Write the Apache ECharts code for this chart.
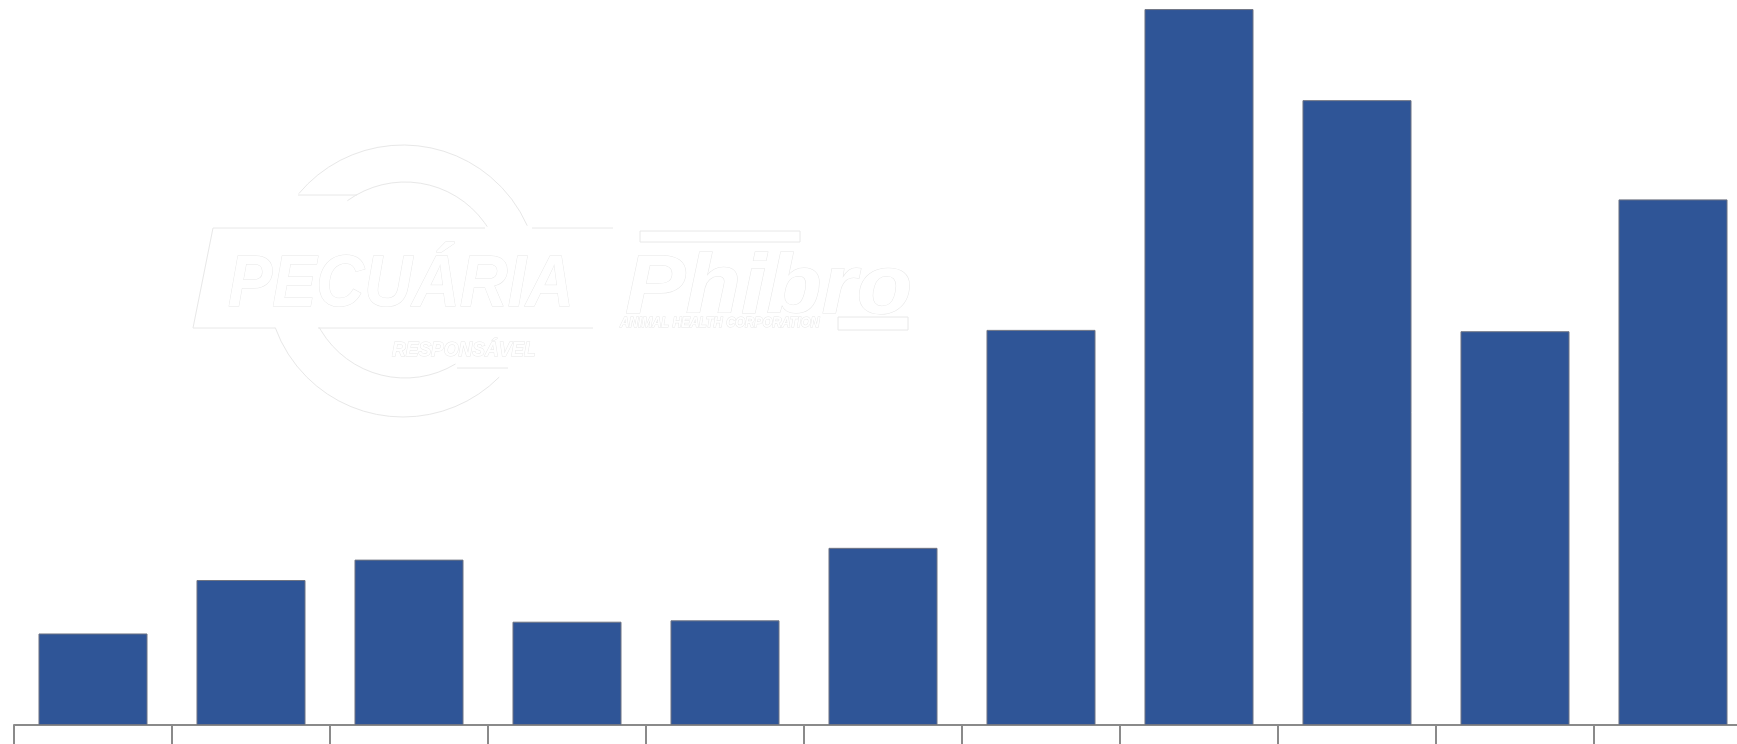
<!DOCTYPE html>
<html>
<head>
<meta charset="utf-8">
<style>
  html, body { margin: 0; padding: 0; background: #fff; }
  #chart { width: 1737px; height: 744px; }
</style>
<script src="https://cdn.jsdelivr.net/npm/echarts@6/dist/echarts.min.js"></script>
</head>
<body>
<div id="chart"></div>
<script>
// categories have no visible labels in the reference
var categories = ["1", "2", "3", "4", "5", "6", "7", "8", "9", "10", "11"];
var values = [1010, 1600, 1825, 1140, 1155, 1955, 4360, 7900, 6895, 4345, 5800];
var yMax = 8000;

var chart = echarts.init(document.getElementById("chart"));

var deg = Math.PI / 180;
var faint = "#e8e8e8";

function arc(cx, cy, r, a0, a1) {
  return {
    type: "arc",
    shape: { cx: cx, cy: cy, r: r, startAngle: a0 * deg, endAngle: a1 * deg, clockwise: true },
    style: { fill: null, stroke: faint, lineWidth: 1 }
  };
}
function seg(x1, y1, x2, y2) {
  return {
    type: "line",
    shape: { x1: x1, y1: y1, x2: x2, y2: y2 },
    style: { stroke: faint, lineWidth: 1 }
  };
}
function label(txt, x, y, size, sx) {
  return {
    type: "text",
    x: x,
    y: y,
    scaleX: sx,
    style: {
      text: txt,
      font: "italic bold " + size + "px 'Liberation Sans', sans-serif",
      fill: "#ffffff",
      stroke: faint,
      lineWidth: 1
    }
  };
}

var option = {
  animation: false,
  backgroundColor: "#ffffff",
  grid: {
    left: 14,
    width: 1738,
    top: 0,
    bottom: 19,
    outerBoundsMode: "none",
    containLabel: false
  },
  xAxis: {
    type: "category",
    data: categories,
    axisLine: {
      show: true,
      lineStyle: { color: "#8a8a8a", width: 2 }
    },
    axisTick: {
      show: true,
      length: 20,
      lineStyle: { color: "#8a8a8a", width: 2 }
    },
    axisLabel: { show: false },
    splitLine: { show: false }
  },
  yAxis: {
    type: "value",
    min: 0,
    max: yMax,
    show: false,
    splitLine: { show: false }
  },
  // faint white-on-white watermark logo
  graphic: [
    {
      type: "group",
      silent: true,
      children: [
        arc(403, 281, 136, -140, -24),
        arc(403, 281, 136, 45, 160),
        arc(405, 280, 98, -126, -33),
        arc(405, 280, 98, 59, 151),
        seg(298, 195, 357, 195),
        seg(457, 368, 508, 368),
        seg(213, 228, 485, 228),
        seg(532, 228, 613, 228),
        seg(213, 228, 193, 328),
        seg(193, 328, 275, 328),
        seg(318, 328, 593, 328),
        {
          type: "rect",
          shape: { x: 640, y: 231, width: 160, height: 11 },
          style: { fill: "#ffffff", stroke: faint, lineWidth: 1 }
        },
        {
          type: "rect",
          shape: { x: 838, y: 317, width: 70, height: 13 },
          style: { fill: "#ffffff", stroke: faint, lineWidth: 1 }
        },
        label("PECUÁRIA", 228, 250, 72, 0.92),
        label("Phibro", 625, 248, 84, 1.08),
        label("RESPONSÁVEL", 392, 340, 20, 0.95),
        label("ANIMAL HEALTH CORPORATION", 620, 316, 14, 0.9)
      ]
    }
  ],
  series: [
    {
      type: "bar",
      data: values,
      barCategoryGap: "31%",
      itemStyle: {
        color: "#2f5597",
        borderColor: "#6f7482",
        borderWidth: 1
      }
    }
  ]
};

chart.setOption(option);
</script>
</body>
</html>
